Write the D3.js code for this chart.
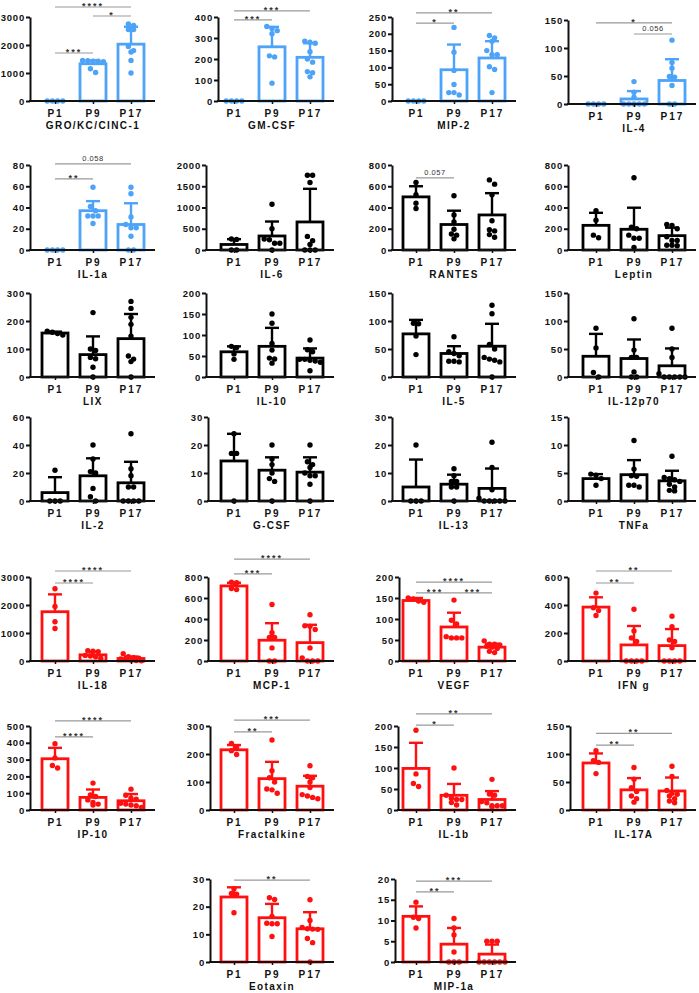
<!DOCTYPE html>
<html>
<head>
<meta charset="utf-8">
<script src="https://cdn.jsdelivr.net/npm/d3@7"></script>
<style>
  body { margin: 0; background: #fff; }
  svg text { font-family: "Liberation Sans", Arial, sans-serif; font-weight: bold; }
</style>
</head>
<body>
<script>
// groups on the x axis
var groups = ["P1", "P9", "P17"];

// one entry per panel, reading order
var names = ["GRO/KC/CINC-1", "GM-CSF", "MIP-2", "IL-4",
  "IL-1a", "IL-6", "RANTES", "Leptin",
  "LIX", "IL-10", "IL-5", "IL-12p70",
  "IL-2", "G-CSF", "IL-13", "TNFa",
  "IL-18", "MCP-1", "VEGF", "IFN g",
  "IP-10", "Fractalkine", "IL-1b", "IL-17A",
  "Eotaxin", "MIP-1a"];

var yMax  = [3000, 400, 250, 150, 80, 2000, 800, 800, 300, 200, 150, 150,
  60, 30, 30, 15, 3000, 800, 200, 600, 500, 300, 200, 150, 30, 20];
var yStep = [1000, 100, 50, 50, 20, 500, 200, 200, 100, 50, 50, 50,
  20, 10, 10, 5, 1000, 200, 50, 200, 100, 100, 50, 50, 10, 5];

// 0 = blue, 1 = black, 2 = red
var colorGroup = [0,0,0,0, 0,1,1,1, 1,1,1,1, 1,1,1,1, 2,2,2,2, 2,2,2,2, 2,2];

var means = [
  [0, 1330, 2030], [0, 258, 208], [0, 93, 128], [0, 9, 42],
  [0, 37, 24], [130, 330, 660], [500, 240, 330], [232, 195, 135],
  [157, 80, 137], [60, 73, 45], [77, 42, 55], [37, 33, 20],
  [6, 18, 13], [14.3, 11, 10.3], [5, 6, 4.5], [4, 4.7, 3.6],
  [1760, 220, 90], [715, 198, 175], [144, 81, 33], [385, 115, 110],
  [305, 75, 55], [215, 112, 85], [99, 35, 25], [84, 36, 34],
  [23.5, 16, 12], [11, 4.3, 1.9]
];

var sds = [
  [0, 120, 620], [0, 95, 67], [0, 75, 50], [0, 14, 38],
  [0, 9, 20], [125, 340, 780], [100, 130, 205], [118, 203, 75],
  [5, 65, 88], [13, 44, 23], [25, 13, 40], [40, 34, 31],
  [11, 12.5, 15], [9.7, 4.6, 5.3], [9.8, 3.4, 7.1], [0.8, 2.6, 1.8],
  [620, 110, 70], [30, 162, 170], [6, 34, 8], [70, 135, 118],
  [65, 47, 40], [17, 60, 37], [61, 27, 20], [17, 21, 24],
  [3.5, 5, 6], [2.4, 3.9, 2.3]
];

var points = [
  [[0,0,0,0], [1450,1440,1420,1400,1420,1150,1020], [2750,2700,2550,2550,1950,1800,1750,1450,1000]],
  [[0,0,0,0], [355,345,335,320,215,210,85], [285,280,275,235,200,185,140,135,115]],
  [[0,0,0,0], [219,145,91,49,25,25,18], [195,188,178,150,138,138,102,94,25]],
  [[0,0,0,0], [40,21,12,0,0,0,0,0], [114,74,64,49,48,33,0,0]],
  [[0,0,0,0], [59,41,37,32,32,32,25], [59,53,31,24,21,21,13,0,0]],
  [[260,250,0,0], [1075,500,260,240,160,160,0], [1760,1760,1590,320,220,130,0,0,0]],
  [[635,520,440,390], [510,330,265,195,150,140,105], [660,620,520,275,190,180,145,120]],
  [[370,280,140,115], [680,215,200,140,110,110,25], [240,230,200,125,90,90,45,45,40]],
  [[164,160,155,150], [230,100,95,70,65,35,0], [270,245,213,188,146,75,64,55,0]],
  [[73,70,55,42], [150,128,80,64,45,43,33], [88,65,60,42,40,38,42,35,15]],
  [[96,95,73,40], [72,45,42,38,28,28,27], [128,113,58,50,35,32,30,27,0]],
  [[87,52,8,0], [104,48,35,35,9,0,0], [87,50,35,6,0,0,0,0,0]],
  [[22,0,0,0], [40,30,21,20,9,3,0], [48,23,18,10,10,0,0,0,0]],
  [[24,17,17,0], [20,15,13,10,8,7,0], [20,14,13,12,10,9,9,6,0]],
  [[20,0,0,0], [11.5,9,7,7,5,5,0], [21,12,4,1,0,0,0,0,0]],
  [[4.8,4.6,4,2.8], [10.8,5.7,4.5,4.4,2.8,2.8,2.5], [8,4.2,4,3.8,3.5,3,1.9,1.8,2.5]],
  [[2580,1950,1400,1160], [370,350,330,200,180,150,100], [260,150,120,100,70,60,40,20,10]],
  [[750,745,690,680], [538,270,225,225,125,0,0], [440,335,330,300,125,30,0,0,0]],
  [[150,148,143,140], [145,97,88,55,55,55,58], [48,40,40,38,35,33,30,20,23]],
  [[485,380,360,325], [370,215,165,140,0,0,0,0], [320,245,150,140,95,0,0,0,0]],
  [[395,310,265,250], [160,90,80,60,45,35,30], [124,88,70,65,40,35,30,25,15]],
  [[238,225,212,198], [250,140,115,100,75,72,60], [158,120,115,100,80,55,50,45,40]],
  [[190,86,63,56], [100,35,28,25,25,18,12], [73,38,35,20,17,10,10,10,8]],
  [[106,88,85,65], [76,55,40,33,25,20,14], [78,60,35,30,28,25,20,16,13]],
  [[26.5,24.8,24.5,17.8], [23.2,22.6,16.5,14,13.8,13.8,9.2], [22.5,15,12.5,12,11.9,11.8,8.5,7,0]],
  [[14.4,10.8,10.5,8.2], [10.5,8.2,6.5,2.4,0,0,0], [5,5,5,0,0,0,0,0,0]]
];

// significance brackets: [from group, to group, label, height in data units]
var sigs = [
  [[0,2,"****",3357], [1,2,"*",3036], [0,1,"***",1714]],
  [[0,2,"***",429], [0,1,"***",386]],
  [[0,2,"**",262], [0,1,"*",232]],
  [[0,2,"*",145], [1,2,"0.056",125]],
  [[0,2,"0.058",81], [0,1,"**",67]],
  [], [[0,1,"0.057",678]], [],
  [], [], [], [],
  [], [], [], [],
  [[0,2,"****",3214], [0,1,"****",2786]],
  [[0,2,"****",971], [0,1,"***",829]],
  [[0,2,"****",188], [0,1,"***",162], [1,2,"***",162]],
  [[0,2,"**",643], [0,1,"**",557]],
  [[0,2,"****",530], [0,1,"****",435]],
  [[0,2,"***",321], [0,1,"**",279]],
  [[0,2,"**",229], [0,1,"*",202]],
  [[0,2,"**",137], [0,1,"**",116]],
  [[0,2,"**",29.6]],
  [[0,2,"***",19.5], [0,1,"**",16.9]]
];

// ---- layout ----
var palette = ["#4da3f8", "#000000", "#ff1010"];
var panelCol = [0,1,2,3, 0,1,2,3, 0,1,2,3, 0,1,2,3, 0,1,2,3, 0,1,2,3, 1,2];
var panelRow = [0,0,0,0, 1,1,1,1, 2,2,2,2, 3,3,3,3, 4,4,4,4, 5,5,5,5, 6,6];
var axisX = [30,218,392,568, 30,206,392,568, 30,206,392,568, 30,208,392,568,
  30,208,399,568, 30,210,398,570, 210,395];
var rowTop = [17, 165, 293, 417, 577, 726, 879];
var rowBottom = [101, 250, 377, 501, 661, 810, 962];
var colFirst = [55, 234, 416, 596];
var catStep = 38;
var barW = 26;
var r = 2.7;

var svg = d3.select("body").append("svg")
  .attr("width", 699)
  .attr("height", 993);

names.forEach(function(name, p) {
  var col = panelCol[p], row = panelRow[p];
  var top = rowTop[row], bottom = rowBottom[row];
  var ax = axisX[p];
  var color = palette[colorGroup[p]];
  if (p == 3) { top += 3; bottom += 3; }

  var xScale = d3.scalePoint()
    .domain(groups)
    .range([colFirst[col], colFirst[col] + 2 * catStep]);
  var yScale = d3.scaleLinear()
    .domain([0, yMax[p]])
    .range([bottom, top]);

  var g = svg.append("g").attr("class", "panel");

  // bars
  groups.forEach(function(grp, i) {
    var m = means[p][i];
    if (m <= 0) return;
    var cx = xScale(grp);
    g.append("rect")
      .attr("x", cx - barW / 2)
      .attr("y", yScale(m))
      .attr("width", barW)
      .attr("height", bottom - yScale(m))
      .attr("fill", "#fff")
      .attr("stroke", color)
      .attr("stroke-width", 2.8);
    // error bar (upper half only)
    var yt = yScale(m + sds[p][i]);
    g.append("line")
      .attr("x1", cx).attr("x2", cx)
      .attr("y1", yScale(m)).attr("y2", yt)
      .attr("stroke", color).attr("stroke-width", 2.4);
    g.append("line")
      .attr("x1", cx - 7).attr("x2", cx + 7)
      .attr("y1", yt).attr("y2", yt)
      .attr("stroke", color).attr("stroke-width", 2.4);
  });

  // points, spread side by side when they sit at the same height
  groups.forEach(function(grp, i) {
    var cx = xScale(grp);
    var vals = points[p][i].slice().sort(function(a, b) { return b - a; });
    var clusters = [];
    vals.forEach(function(v) {
      var y = yScale(v);
      var last = clusters[clusters.length - 1];
      if (last && Math.abs(last.y0 - y) < 4.5) last.ys.push(y);
      else clusters.push({y0: y, ys: [y]});
    });
    clusters.forEach(function(c) {
      var n = c.ys.length;
      c.ys.forEach(function(y, k) {
        g.append("circle")
          .attr("cx", cx + (k - (n - 1) / 2) * 5.2)
          .attr("cy", y)
          .attr("r", r)
          .attr("fill", color);
      });
    });
  });

  // y axis
  var yAxis = d3.axisLeft(yScale)
    .tickValues(d3.range(0, yMax[p] + yStep[p] / 2, yStep[p]))
    .tickSize(4)
    .tickSizeOuter(0)
    .tickFormat(d3.format("d"));
  var ya = g.append("g")
    .attr("transform", "translate(" + ax + ",0)")
    .call(yAxis);
  ya.select(".domain").attr("stroke", "#111").attr("stroke-width", 2);
  ya.selectAll(".tick line").attr("stroke", "#111").attr("stroke-width", 2);
  ya.selectAll(".tick text")
    .attr("x", -5)
    .style("font-size", "9.5px")
    .style("letter-spacing", "0.8px")
    .attr("fill", "#111");

  // x axis
  var xEnd = xScale(groups[2]) + 24;
  g.append("line")
    .attr("x1", ax - 1).attr("x2", xEnd)
    .attr("y1", bottom).attr("y2", bottom)
    .attr("stroke", "#111").attr("stroke-width", 2);
  var xa = g.append("g")
    .attr("transform", "translate(0," + bottom + ")")
    .call(d3.axisBottom(xScale).tickSize(3).tickSizeOuter(0));
  xa.select(".domain").remove();
  xa.selectAll(".tick line").attr("stroke", "#111").attr("stroke-width", 1.5);
  xa.selectAll(".tick text")
    .attr("y", 9)
    .style("font-size", "10px")
    .style("letter-spacing", "2px")
    .attr("fill", "#111");

  // title under the panel
  g.append("text")
    .attr("x", xScale(groups[1]))
    .attr("y", bottom + 28)
    .attr("text-anchor", "middle")
    .style("font-size", "10px")
    .style("letter-spacing", "1.4px")
    .attr("fill", "#111")
    .text(name);

  // significance brackets
  sigs[p].forEach(function(s) {
    var x1 = xScale(groups[s[0]]), x2 = xScale(groups[s[1]]);
    var y = yScale(s[3]);
    g.append("line")
      .attr("x1", x1).attr("x2", x2)
      .attr("y1", y).attr("y2", y)
      .attr("stroke", "#9a9a9a").attr("stroke-width", 1.2);
    var isNum = s[2].indexOf("0") == 0;
    g.append("text")
      .attr("x", (x1 + x2) / 2)
      .attr("y", isNum ? y - 3 : y + 2)
      .attr("text-anchor", "middle")
      .style("font-size", isNum ? "7.5px" : "9px")
      .style("font-weight", isNum ? "normal" : "bold")
      .style("letter-spacing", isNum ? "0.5px" : "2px")
      .attr("fill", "#333")
      .text(s[2]);
  });
});
</script>
</body>
</html>
